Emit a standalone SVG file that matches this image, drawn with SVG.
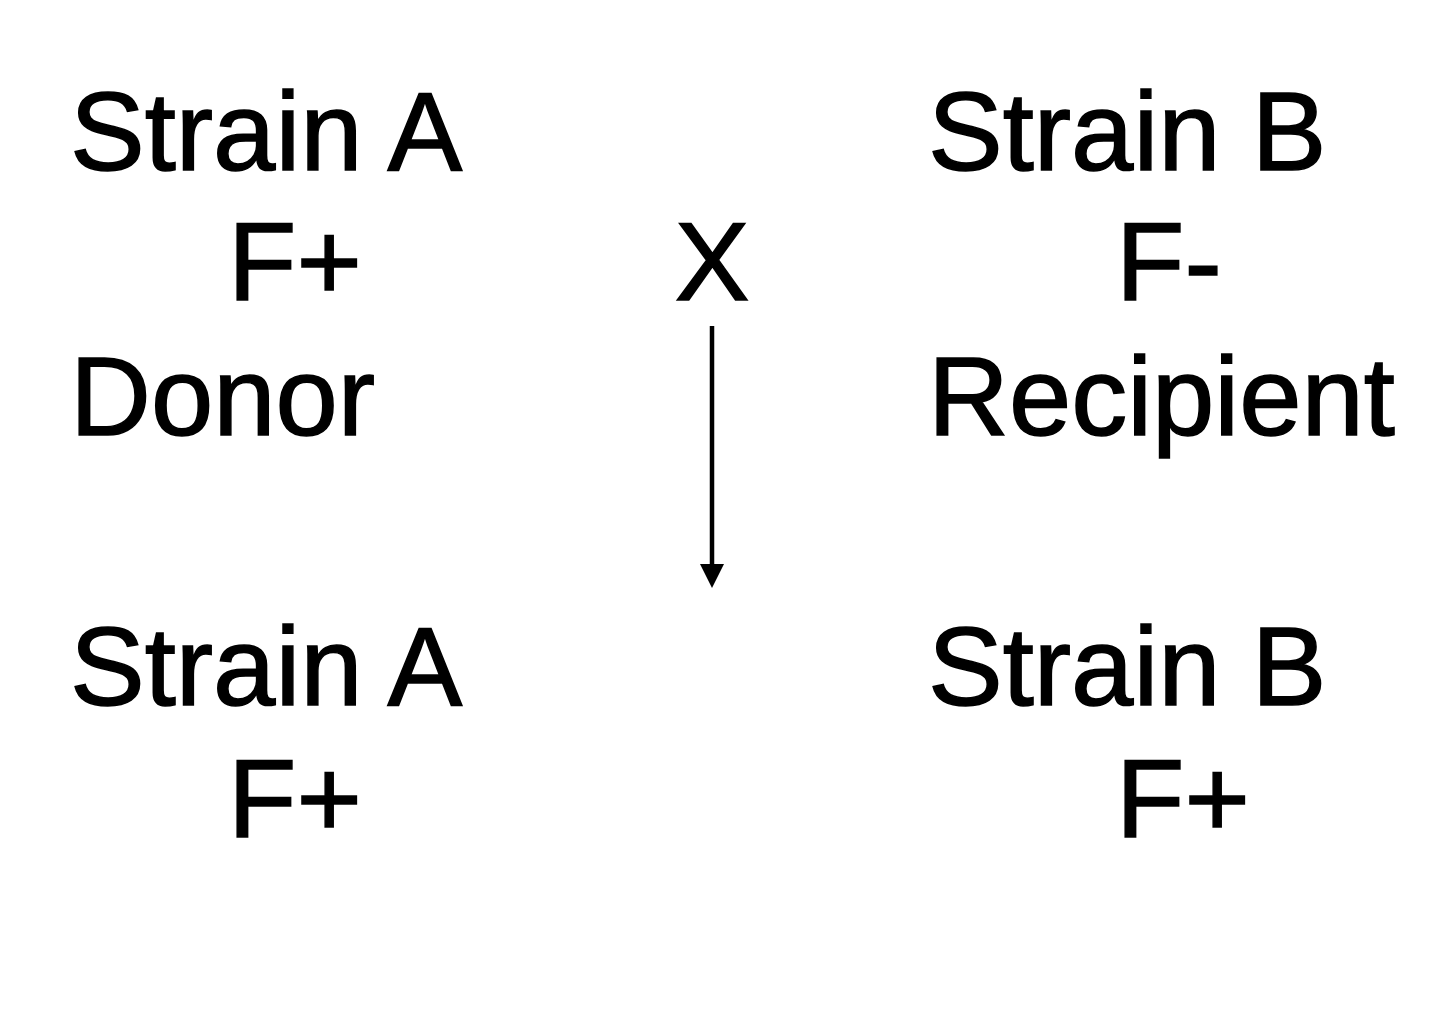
<svg xmlns="http://www.w3.org/2000/svg" width="1440" height="1033" viewBox="0 0 1440 1033">
<style>
text { font-family: "Liberation Sans", Arial, sans-serif; font-size: 112px; fill: #000; stroke: #000; stroke-width: 1.5px; }
.c { text-anchor: middle; }
</style>
<defs>
<marker id="ah" markerUnits="userSpaceOnUse" markerWidth="24" markerHeight="24" refX="0" refY="12" orient="auto">
<path d="M0,0 L24,12 L0,24 Z" fill="#000"/>
</marker>
</defs>
<rect width="1440" height="1033" fill="#fff"/>
<g id="strainA-top">
<text x="70" y="170">Strain A</text>
<text x="228" y="300">F+</text>
<text x="70" y="435">Donor</text>
</g>
<g id="cross">
<text class="c" x="712" y="300">X</text>
</g>
<g id="strainB-top">
<text x="928" y="170">Strain B</text>
<text x="1116" y="300">F-</text>
<text x="928" y="435">Recipient</text>
</g>
<g id="strainA-bottom">
<text x="70" y="705">Strain A</text>
<text x="228" y="837">F+</text>
</g>
<g id="strainB-bottom">
<text x="928" y="705">Strain B</text>
<text x="1116" y="837">F+</text>
</g>
<g id="connectors">
<line x1="712" y1="326" x2="712" y2="564" stroke="#000" stroke-width="4.5" marker-end="url(#ah)"/>
</g>
</svg>
